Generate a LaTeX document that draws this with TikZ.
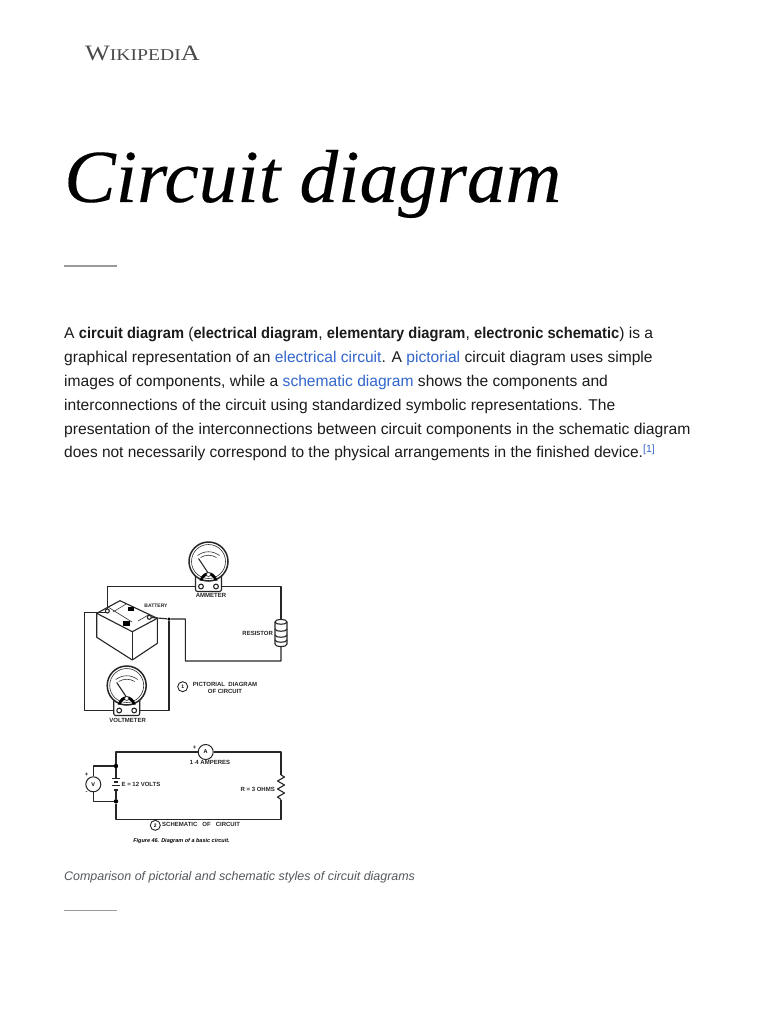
\documentclass[tikz,border=0pt]{standalone}
\usepackage{fontspec}
\usepackage{graphicx}
\setmainfont{Liberation Sans}
\newfontfamily\serifface{Liberation Serif}
\newfontfamily\titleface{Liberation Serif}[ItalicFeatures={FakeBold=0.2}]
\usetikzlibrary{calc}
\definecolor{bodyink}{HTML}{1A1B1C}
\definecolor{linkblue}{HTML}{3366CC}
\definecolor{capgray}{HTML}{54595D}
\definecolor{rulegray}{HTML}{9A9A9A}
\definecolor{logogray}{HTML}{4A4A4A}
\newcommand{\lk}[1]{\textcolor{linkblue}{#1}}
\newcommand{\bd}[1]{\scalebox{.94}[1]{\textbf{#1}}}
\newcommand{\gaugeat}[3]{%
  \coordinate (#1) at (#2,#3);
  \draw[wire,fill=white,rounded corners=2pt] ($(#1)+(-13,10)$) -- ($(#1)+(-13,30)$) -- ($(#1)+(13,30)$) -- ($(#1)+(13,10)$);
  \draw[wire,line width=1.5pt,fill=white] (#1) circle[radius=19.5pt];
  \draw[thinwire] (#1) circle[radius=17pt];
  \draw[thinwire] ($(#1)+(-11,-6)$) .. controls ($(#1)+(-4,-11)$) and ($(#1)+(4,-11)$) .. ($(#1)+(11,-6)$);
  \draw[thinwire] ($(#1)+(-8,-4)$) .. controls ($(#1)+(-3,-7)$) and ($(#1)+(3,-7)$) .. ($(#1)+(8,-4)$);
  \draw[wire,line width=1.1pt] ($(#1)+(0,12)$) -- ($(#1)+(-10,-3)$);
  \fill ($(#1)+(-9,19)$) .. controls ($(#1)+(-6,8)$) and ($(#1)+(6,8)$) .. ($(#1)+(9,19)$) -- ($(#1)+(6,19)$) .. controls ($(#1)+(4,12)$) and ($(#1)+(-4,12)$) .. ($(#1)+(-6,19)$) -- cycle;
  \draw[thinwire,fill=white] ($(#1)+(0,13)$) circle[radius=2pt];
  \draw[wire,fill=white] ($(#1)+(-7.5,25)$) circle[radius=2.4pt];
  \draw[wire,fill=white] ($(#1)+(7.5,25)$) circle[radius=2.4pt];
}
\tikzset{
  x=1pt,y=-1pt,
  wire/.style={draw=black!85,line width=1.1pt,line join=round},
  thinwire/.style={draw=black!80,line width=0.6pt},
  bodyline/.style={anchor=base west,inner sep=0pt,font=\fontsize{15.6}{18}\selectfont,text=bodyink},
  tinylabel/.style={inner sep=0pt,font=\fontsize{6}{7}\selectfont\bfseries,text=black!85},
  juncdot/.style={circle,fill=black,inner sep=0pt,minimum size=4.4pt},
  meter/.style={circle,draw=black!85,line width=1pt,fill=white,inner sep=0pt,minimum size=15pt,font=\fontsize{5.5}{6}\selectfont\bfseries},
  numcirc/.style={circle,draw=black!85,line width=0.9pt,inner sep=0pt,minimum size=10pt,font=\fontsize{5}{6}\selectfont\bfseries},
  sep/.style={draw=rulegray,line width=1.1pt}
}
\begin{document}
\begin{tikzpicture}
\useasboundingbox[fill=white] (0,0) rectangle (768,1024);
% header
\node[anchor=base west,inner sep=0pt,text=logogray] (logo) at (85,60.5)
  {\scalebox{1.19}[1]{\serifface\fontsize{22}{24}\selectfont W\fontsize{16.5}{20}\selectfont IKIPEDI\fontsize{22}{24}\selectfont A}};
\node[anchor=base west,inner sep=0pt] (title) at (64,202)
  {\scalebox{1.03}[1]{\titleface\itshape\fontsize{75}{80}\selectfont Circuit diagram}};
\coordinate (r1a) at (64,266); \coordinate (r1b) at (117,266);
\draw[sep] (r1a) -- (r1b);
% body
\node[bodyline] (l1) at (64,338.5) {A \bd{circuit diagram} (\bd{electrical diagram}, \bd{elementary diagram}, \bd{electronic schematic}) is a};
\node[bodyline] (l2) at (64,362.5) {graphical representation of an \lk{electrical circuit}. A \lk{pictorial} circuit diagram uses simple};
\node[bodyline] (l3) at (64,386.5) {images of components, while a \lk{schematic diagram} shows the components and};
\node[bodyline] (l4) at (64,410.5) {interconnections of the circuit using standardized symbolic representations. The};
\node[bodyline] (l5) at (64,434) {\scalebox{1.006}[1]{presentation of the interconnections between circuit components in the schematic diagram}};
\node[bodyline] (l6) at (64,457) {\scalebox{.992}[1]{does not necessarily correspond to the physical arrangements in the finished device.}\raisebox{5pt}{\fontsize{10.5}{12}\selectfont\lk{[1]}}};
% pictorial anchors
\coordinate (amm) at (208.5,561.5);
\coordinate (volt) at (126.7,685.5);
\coordinate (voltL) at (119.2,710.5);
\coordinate (voltR) at (134.2,710.5);
\coordinate (batL) at (107.3,611);
\coordinate (batR) at (149.3,617.3);
\coordinate (tl) at (107.3,586.5);
\coordinate (tr) at (281,586.5);
\coordinate (resT) at (281,620);
\coordinate (resB) at (281,646);
\coordinate (br) at (281,661);
\coordinate (bl) at (185.3,661);
\coordinate (mid) at (185.3,619);
\node[juncdot,minimum size=3.5pt] (jn) at (169,619) {};
\coordinate (jd) at (169,710.5);
\coordinate (vl) at (84.7,710.5);
\coordinate (vt) at (84.7,612.7);
\coordinate (vb) at (107.3,612.7);
% battery
\draw[wire,fill=white] (96.7,613.3) -- (120,600.7) -- (157.3,618.3) -- (132.3,631.7) -- cycle;
\draw[wire] (96.7,613.3) -- (96.7,637.3) -- (132.3,660) -- (157.3,643.3) -- (157.3,618.3);
\draw[wire] (132.3,631.7) -- (132.3,660);
\draw[thinwire] (108,607) -- (132,622);
\draw[thinwire] (126,604) -- (113,612);
\draw[thinwire] (150,614) -- (138,621);
\fill (128,607) rectangle (134,610.5);
\fill (123,621) rectangle (130,626);
% wires
\draw[wire] (batL) -- (tl) -- (tr) -- (resT);
\draw[wire] (resB) -- (br) -- (bl) -- (mid) -- (jn) -- (batR);
\draw[wire] (jn) -- (jd) -- (voltR);
\draw[wire] (voltL) -- (vl) -- (vt) -- (vb);
\draw[wire,fill=white] (batL) circle[radius=2pt];
\draw[wire,fill=white] (batR) circle[radius=2pt];
% meters over the wires
\gaugeat{amm}{208.5}{561.5}
\gaugeat{volt}{126.7}{685.5}
% resistor
\draw[wire,fill=white] (275,622) .. controls (275,618.5) and (287,618.5) .. (287,622) -- (287,644) .. controls (287,647.5) and (275,647.5) .. (275,644) -- cycle;
\draw[wire] (275,622) .. controls (275,625) and (287,625) .. (287,622);
\draw[wire] (275,629) .. controls (275,632) and (287,632) .. (287,629);
\draw[wire] (275,635) .. controls (275,638) and (287,638) .. (287,635);
\draw[wire] (275,640) .. controls (275,643) and (287,643) .. (287,640);
% pictorial labels
\node[tinylabel,font=\fontsize{5}{6}\selectfont\bfseries] (lbat) at (156,606) {BATTERY};
\node[tinylabel] (lamm) at (211,595.7) {AMMETER};
\node[tinylabel] (lres) at (257.7,633.3) {RESISTOR};
\node[tinylabel] (lvol) at (127.7,720) {VOLTMETER};
\node[numcirc] (n1) at (182.7,686.7) {1};
\node[tinylabel] (lp1) at (225,684.5) {PICTORIAL\ \ DIAGRAM};
\node[tinylabel] (lp2) at (225,691.7) {OF CIRCUIT};
% schematic
\coordinate (stl) at (116,752);
\coordinate (str) at (281,752);
\coordinate (sbr) at (281,819.3);
\coordinate (sbl) at (116,819.3);
\node[juncdot] (d1) at (116,766) {};
\node[juncdot] (d2) at (116,801.3) {};
\node[meter] (mA) at (205.7,752) {A};
\node[meter] (mV) at (93.3,784.3) {V};
\coordinate (zt) at (281,775);
\coordinate (zb) at (281,799.5);
\coordinate (pt) at (116,778.5);
\coordinate (pb) at (116,790);
\draw[wire] (d1) -- (stl) -- (mA) -- (str) -- (zt);
\draw[wire] (zt) -- ++(3.5,2) -- ++(-7,4) -- ++(7,4) -- ++(-7,4) -- ++(7,4) -- ++(-7,4) -- (zb);
\draw[wire] (zb) -- (sbr) -- (sbl) -- (d2);
\draw[wire] (d1) -- (pt);
\draw[wire] (pb) -- (d2);
\draw[wire] (d1) -| (mV);
\draw[wire] (d2) -| (mV);
\draw[wire] ($(pt)+(-4,0)$) -- ($(pt)+(4,0)$);
\draw[wire,line width=1.6pt] ($(pt)+(-2.3,3.5)$) -- ($(pt)+(2.3,3.5)$);
\draw[wire] ($(pt)+(-4,7)$) -- ($(pt)+(4,7)$);
\draw[wire,line width=1.6pt] ($(pb)+(-2.3,0)$) -- ($(pb)+(2.3,0)$);
\node[tinylabel] (sp) at (194.7,747.5) {+};
\node[tinylabel] (sv1) at (86.7,775) {+};
\node[tinylabel] (sv2) at (86.7,792.7) {-};
\node[tinylabel] (samp) at (210,762.3) {1$\cdot$4 AMPERES};
\node[tinylabel] (sev) at (141,784) {E = 12 VOLTS};
\node[tinylabel] (soh) at (257.7,789) {R = 3 OHMS};
\node[numcirc] (n2) at (155.3,825.3) {2};
\node[tinylabel,anchor=west] (ssc) at (162,824.7) {SCHEMATIC\ \ \ OF\ \ \ CIRCUIT};
\node[inner sep=0pt,font=\fontsize{5.5}{6}\selectfont\bfseries\itshape] (sfig) at (181.5,841) {Figure 46. Diagram of a basic circuit.};
% caption
\node[anchor=base west,inner sep=0pt,text=capgray,font=\fontsize{12.45}{15}\selectfont\itshape] (cap) at (64,880.5) {Comparison of pictorial and schematic styles of circuit diagrams};
\coordinate (r2a) at (64,910.5); \coordinate (r2b) at (117,910.5);
\draw[sep] (r2a) -- (r2b);
\end{tikzpicture}
\end{document}
